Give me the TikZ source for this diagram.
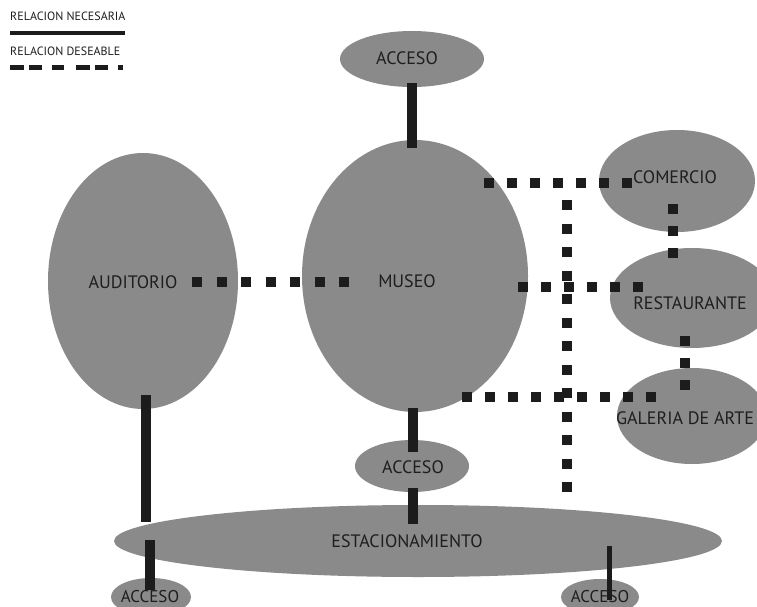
\documentclass[tikz,border=0pt]{standalone}
\usepackage{fontspec}
\setmainfont{PT Sans}
\usetikzlibrary{shapes.geometric,calc}
\definecolor{zona}{RGB}{138,138,138}
\definecolor{linea}{RGB}{28,28,28}
\definecolor{texto}{RGB}{30,30,30}
\begin{document}
\begin{tikzpicture}[x=1pt,y=-1pt,
  zonebox/.style={shape=ellipse,fill=zona,draw=none,inner sep=0pt},
  lbl/.style={text=texto,font=\fontsize{18}{20}\selectfont,inner sep=0pt},
  smalllbl/.style={text=texto,font=\fontsize{17}{19}\selectfont,inner sep=0pt},
  leglbl/.style={text=texto,font=\fontsize{12}{13}\selectfont,inner sep=0pt,anchor=west},
  necesaria/.style={draw=linea,line width=10pt},
  deseable/.style={draw=linea,line width=10pt,dash pattern=on 10pt off 13pt}]
\useasboundingbox (0,0) rectangle (757,607);
\clip (0,0) rectangle (757,607);
\fill[white] (0,0) rectangle (757,607);

% legend
\node[leglbl] (legN) at (10,16) {RELACION NECESARIA};
\coordinate (legNa) at (10,33);
\coordinate (legNb) at (125,33);
\draw[draw=linea,line width=4pt] (legNa) -- (legNb);
\node[leglbl] (legD) at (10,51) {RELACION DESEABLE};
\coordinate (legDa) at (10,68);
\coordinate (legDb) at (123,68);
\draw[draw=linea,line width=5pt,dash pattern=on 14pt off 5pt on 13pt off 10pt on 12pt off 12pt] (legDa) -- (legDb);

% zones
\node[zonebox,minimum width=144pt,minimum height=56pt] (accTop) at (412,59) {};
\node[zonebox,minimum width=226pt,minimum height=272pt] (museo) at (415,276) {};
\node[zonebox,minimum width=190pt,minimum height=256pt] (auditorio) at (143,281) {};
\node[zonebox,minimum width=156pt,minimum height=102pt] (comercio) at (677,181) {};
\node[zonebox,minimum width=164pt,minimum height=100pt] (restaurante) at (692,298) {};
\node[zonebox,minimum width=150pt,minimum height=96pt] (galeria) at (692,416) {};
\node[zonebox,minimum width=114pt,minimum height=52pt] (accMid) at (412,466) {};
\node[zonebox,minimum width=608pt,minimum height=72pt] (estac) at (418,541) {};
\node[zonebox,minimum width=80pt,minimum height=38pt] (accBL) at (151,597) {};
\node[zonebox,minimum width=78pt,minimum height=36pt] (accBR) at (600,597) {};

% necessary relations
\draw[necesaria] ($(accTop.center)+(0,24)$) -- ($(museo.center)+(-3,-128)$);
\draw[necesaria] ($(auditorio.center)+(3,114)$) -- ($(estac.center)+(-272,-19)$);
\draw[necesaria] ($(museo.center)+(-2,132)$) -- ($(accMid.center)+(1,-14)$);
\draw[necesaria] ($(accMid.center)+(1,22)$) -- ($(estac.center)+(-5,-17)$);
\draw[necesaria] ($(estac.center)+(-268,-1)$) -- ($(accBL.center)+(-1,-7)$);
\draw[draw=linea,line width=5pt] ($(estac.center)+(191,5)$) -- ($(accBR.center)+(9,3)$);

% desirable relations
\draw[deseable,dash pattern=on 10pt off 14.5pt] ($(auditorio.center)+(49,1)$) -- ($(museo.center)+(-66,6)$);
\draw[deseable] ($(museo.center)+(69,-93)$) -- ($(comercio.center)+(-45,2)$);
\draw[deseable] ($(museo.center)+(103,11)$) -- ($(restaurante.center)+(-45,-11)$);
\draw[deseable] ($(museo.center)+(47,121)$) -- ($(galeria.center)+(-35,-19)$);
\coordinate (trunk) at ($(museo.center)+(152,-76)$);
\draw[deseable,dash pattern=on 10pt off 13.5pt] (trunk) -- ($(estac.center)+(149,-36)$);
\draw[deseable,dash pattern=on 10pt off 12pt] ($(comercio.center)+(-4,23)$) -- ($(restaurante.center)+(-19,-33)$);
\draw[deseable,dash pattern=on 10pt off 12pt] ($(restaurante.center)+(-7,38)$) -- ($(galeria.center)+(-7,-26)$);

% labels
\node[lbl] (tAccTop) at (407,58) {ACCESO};
\node[lbl] (tMuseo) at (407,281) {MUSEO};
\node[lbl] (tAud) at (133,282) {AUDITORIO};
\node[lbl] (tCom) at (675,177) {COMERCIO};
\node[lbl] (tRest) at (690,303) {RESTAURANTE};
\node[lbl] (tGal) at (685,418) {GALERIA DE ARTE};
\node[lbl] (tAccMid) at (413,467) {ACCESO};
\node[lbl] (tEst) at (407,541) {ESTACIONAMIENTO};
\node[smalllbl] (tAccBL) at (150,597) {ACCESO};
\node[smalllbl] (tAccBR) at (600,597) {ACCESO};
\end{tikzpicture}
\end{document}
